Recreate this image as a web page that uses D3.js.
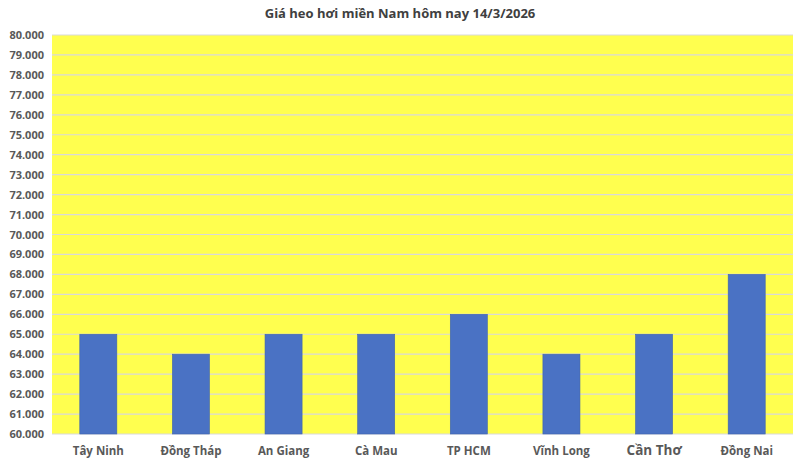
<!DOCTYPE html>
<html><head><meta charset="utf-8">
<script src="https://cdn.jsdelivr.net/npm/d3@7"></script>
<style>body{margin:0;background:#fff;} svg{display:block;}</style>
</head><body>
<svg id="c" width="800" height="465"></svg>
<script>
const title = "Giá heo hơi miền Nam hôm nay 14/3/2026";
const categories = ["Tây Ninh","Đồng Tháp","An Giang","Cà Mau","TP HCM","Vĩnh Long","Cần Thơ","Đồng Nai"];
const values = [65000,64000,65000,65000,66000,64000,65000,68000];
const yTicks = d3.range(60000, 80001, 1000);

const svg = d3.select("#c");
const m = {left:52, right:7, top:35, bottom:31};
const W = 800, H = 465;
const x = d3.scaleBand().domain(categories).range([m.left, W-m.right]).paddingInner(0.6).paddingOuter(0.3);
const y = d3.scaleLinear().domain([60000,80000]).range([H-m.bottom, m.top]);

svg.append("rect").attr("x",m.left).attr("y",m.top).attr("width",W-m.right-m.left).attr("height",y(60000)-m.top).attr("fill","#ffff4f");

svg.append("g").selectAll("line").data(yTicks).join("line")
  .attr("x1",m.left).attr("x2",W-m.right)
  .attr("y1",d=>y(d)).attr("y2",d=>y(d))
  .attr("stroke","#d9d9d9").attr("stroke-width",1.2);

svg.append("g").selectAll("rect").data(values).join("rect")
  .attr("x",(d,i)=>x(categories[i]))
  .attr("width",x.bandwidth())
  .attr("y",d=>y(d)).attr("height",d=>y(60000)-y(d))
  .attr("fill","#4a72c4").attr("stroke","#3f63ad").attr("stroke-width",0.6);

const yAxis = d3.axisLeft(y).tickValues(yTicks).tickSize(0).tickPadding(8)
  .tickFormat(d=>d3.format(",")(d).replace(/,/g,"."));
const ga = svg.append("g").attr("transform",`translate(${m.left},0)`).call(yAxis);
ga.select(".domain").remove();
ga.selectAll("text").attr("font-family","'Open Sans', 'Liberation Sans', sans-serif").attr("font-weight","bold")
  .attr("font-size","11px").attr("fill","#595959");

const xAxis = d3.axisBottom(x).tickSize(0).tickPadding(13);
const gx = svg.append("g").attr("transform",`translate(0,${y(60000)})`).call(xAxis);
gx.select(".domain").remove();
gx.selectAll("text").attr("font-family","'Open Sans', 'Liberation Sans', sans-serif").attr("font-weight","bold")
  .attr("font-size","11.5px").attr("fill","#595959");
gx.selectAll("text").filter(d=>d==="Cần Thơ").attr("font-size","13.5px").attr("dy","0.6em");

svg.append("text").attr("x",400).attr("y",18).attr("text-anchor","middle")
  .attr("font-family","'Open Sans', 'Liberation Sans', sans-serif").attr("font-weight","bold")
  .attr("font-size","13px").attr("fill","#404040").text(title);
</script>
</body></html>
